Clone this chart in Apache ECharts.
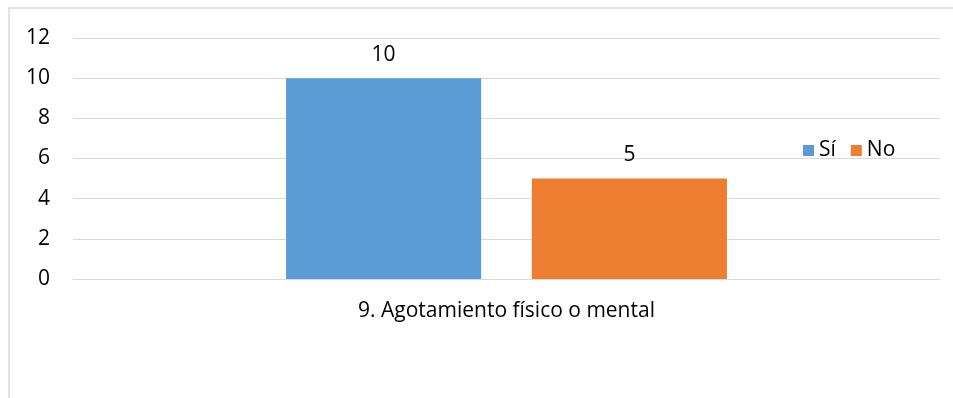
<!DOCTYPE html>
<html>
<head>
<meta charset="utf-8">
<script src="https://cdn.jsdelivr.net/npm/echarts@6/dist/echarts.min.js"></script>
<style>
  html, body { margin: 0; padding: 0; background: #fff; }
  #chart { width: 953px; height: 398px; }
</style>
</head>
<body>
<div id="chart"></div>
<script>
// Survey answers for item 9
const categories = ['9. Agotamiento físico o mental'];
const siValues = [10];
const noValues = [5];
const seriesNames = ['Sí', 'No'];

const FONT = '"Open Sans", "Liberation Sans", sans-serif';
const FS = 21;

const chart = echarts.init(document.getElementById('chart'));
chart.setOption({
  animation: false,
  textStyle: { fontFamily: FONT },
  graphic: [{
    type: 'rect',
    shape: { x: 9, y: 8, width: 1000, height: 500 },
    style: { fill: 'none', stroke: '#D9D9D9', lineWidth: 1.5 },
    silent: true
  }],
  legend: {
    data: seriesNames,
    left: 798,
    top: 135,
    itemWidth: 11,
    itemHeight: 11,
    itemGap: 15,
    icon: 'rect',
    textStyle: { fontFamily: FONT, fontSize: FS, color: '#000', padding: [0, 0, 0, 0] }
  },
  grid: { left: 73, right: 13, top: 38, bottom: 119, containLabel: false },
  xAxis: {
    type: 'category',
    data: categories,
    axisLine: { show: true, lineStyle: { color: '#D9D9D9', width: 1 } },
    axisTick: { show: false },
    axisLabel: { fontFamily: FONT, fontSize: FS, color: '#000', margin: 22 }
  },
  yAxis: {
    type: 'value',
    min: 0,
    max: 12,
    interval: 2,
    axisLine: { show: false },
    axisTick: { show: false },
    axisLabel: { fontFamily: FONT, fontSize: FS, color: '#000', margin: 23 },
    splitLine: { lineStyle: { color: '#D9D9D9', width: 1 } }
  },
  series: [
    {
      name: seriesNames[0],
      type: 'bar',
      data: siValues,
      barWidth: '22.5%',
      barGap: '26%',
      itemStyle: { color: '#5B9BD5' },
      label: { show: true, position: 'top', distance: 13, fontFamily: FONT, fontSize: FS, color: '#000' }
    },
    {
      name: seriesNames[1],
      type: 'bar',
      data: noValues,
      barWidth: '22.5%',
      itemStyle: { color: '#ED7D31' },
      label: { show: true, position: 'top', distance: 13, fontFamily: FONT, fontSize: FS, color: '#000' }
    }
  ]
});
</script>
</body>
</html>
